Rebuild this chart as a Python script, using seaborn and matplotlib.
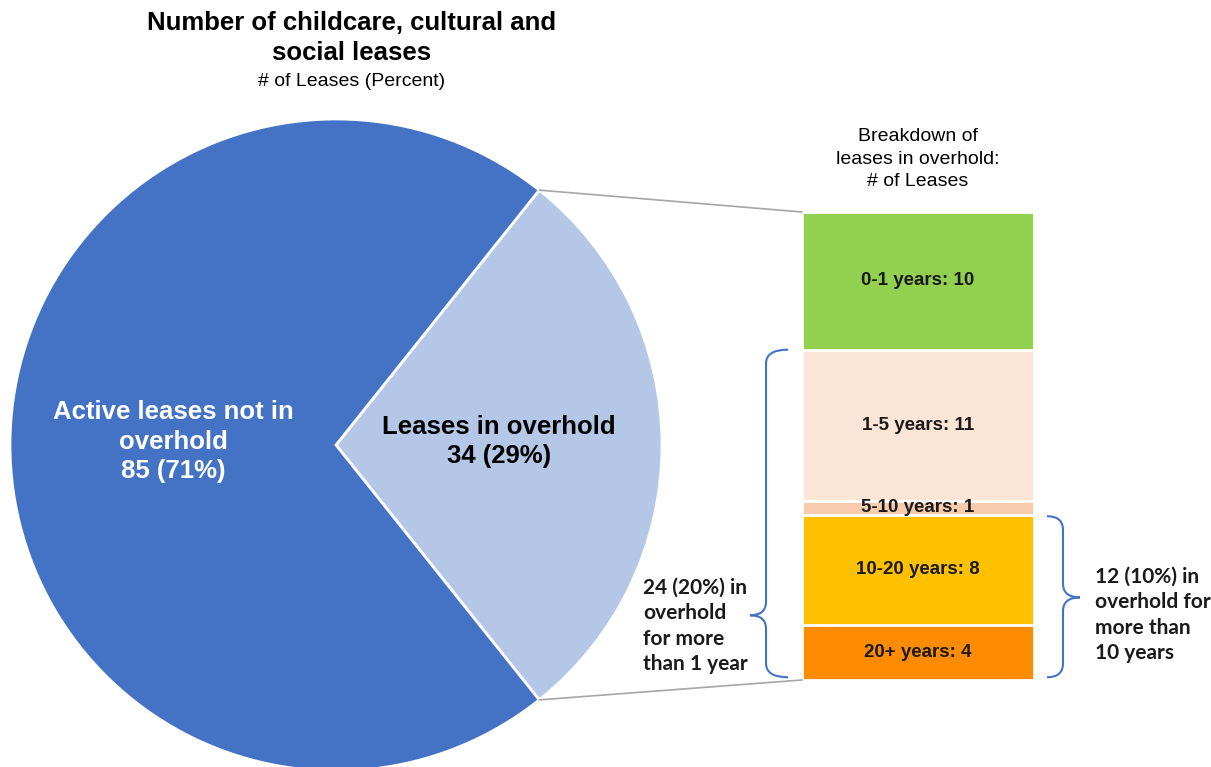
import numpy as np
import matplotlib
matplotlib.use("Agg")
import matplotlib.pyplot as plt
import matplotlib.transforms as mtransforms
from matplotlib.path import Path
from matplotlib.patches import PathPatch, ConnectionPatch
import seaborn as sns

# dados
pie_labels = ["Leases in overhold", "Active leases not in\noverhold"]
pie_values = [34, 85]
pie_colors = ["#B4C7E7", "#4472C4"]
pie_text_colors = ["black", "white"]

# barra empilhada (de baixo para cima)
bar_labels = ["20+ years", "10-20 years", "5-10 years", "1-5 years", "0-1 years"]
bar_values = [4, 8, 1, 11, 10]
bar_colors = ["#FF8C00", "#FFC000", "#F8CBAD", "#FBE5D6", "#92D050"]

brace_left_text = "24 (20%) in\noverhold\nfor more\nthan 1 year"
brace_right_text = "12 (10%) in\noverhold for\nmore than\n10 years"

sns.set_theme(style="white")
plt.rcParams['font.family'] = ['Liberation Sans', 'DejaVu Sans']
plt.rcParams['text.color'] = 'black'

W, H = 1211, 767
fig = plt.figure(figsize=(W / 100, H / 100), dpi=100)

# pizza
cx, cy, r = 336, 445, 326
ax1 = fig.add_axes([(cx - r) / W, (H - cy - r) / H, 2 * r / W, 2 * r / H])
total = sum(pie_values)
start = -pie_values[0] / total * 180
wedges, _ = ax1.pie(pie_values, colors=pie_colors, startangle=start, counterclock=True,
                    radius=1, wedgeprops=dict(edgecolor="white", linewidth=2))
ax1.set_xlim(-1, 1)
ax1.set_ylim(-1, 1)
ax1.set_aspect("equal")
ax1.axis("off")

for w, lab, val, tc in zip(wedges, pie_labels, pie_values, pie_text_colors):
    ang = np.deg2rad((w.theta1 + w.theta2) / 2)
    txt = f"{lab}\n{val} ({val / total:.0%})"
    ax1.text(0.5 * np.cos(ang), 0.5 * np.sin(ang) + 0.01, txt, ha="center", va="center",
             fontsize=18.5, fontweight="bold", color=tc, linespacing=1.28)

# barra
bx0, bx1, by0, by1 = 802, 1034, 212, 680
ax2 = fig.add_axes([bx0 / W, (H - by1) / H, (bx1 - bx0) / W, (by1 - by0) / H])
cum = np.cumsum(bar_values)
for i in range(len(bar_values) - 1, -1, -1):
    sns.barplot(x=["overhold"], y=[cum[i]], color=bar_colors[i], width=1, ax=ax2,
                edgecolor="white", linewidth=2, saturation=1)
ax2.set_xlim(-0.5, 0.5)
ax2.set_ylim(0, cum[-1])
ax2.axis("off")

bottoms = cum - np.array(bar_values)
for lab, val, b in zip(bar_labels, bar_values, bottoms):
    ax2.text(0, b + val / 2, f"{lab}: {val}", ha="center", va="center",
             fontsize=13.5, fontweight="bold", color="#1a1a1a")

# linhas de ligacao
a_top = np.deg2rad(wedges[0].theta2)
a_bot = np.deg2rad(wedges[0].theta1)
for ang, yb in [(a_top, cum[-1]), (a_bot, 0)]:
    con = ConnectionPatch(xyA=(np.cos(ang), np.sin(ang)), coordsA=ax1.transData,
                          xyB=(-0.5, yb), coordsB=ax2.transData,
                          color="#A6A6A6", linewidth=1.2)
    fig.add_artist(con)


def brace(ax, y0, y1, ytip, x_end, x_mid, x_tip, rr=1.0):
    trans = mtransforms.blended_transform_factory(ax.transAxes, ax.transData)
    verts = [(x_end, y0), (x_mid, y0), (x_mid, y0 + rr),
             (x_mid, ytip - rr), (x_mid, ytip), (x_tip, ytip),
             (x_mid, ytip), (x_mid, ytip + rr),
             (x_mid, y1 - rr), (x_mid, y1), (x_end, y1)]
    codes = [Path.MOVETO, Path.CURVE3, Path.CURVE3,
             Path.LINETO, Path.CURVE3, Path.CURVE3,
             Path.CURVE3, Path.CURVE3,
             Path.LINETO, Path.CURVE3, Path.CURVE3]
    p = PathPatch(Path(verts, codes), transform=trans, fill=False,
                  edgecolor="#4472C4", linewidth=1.5, clip_on=False)
    ax.add_patch(p)


brace(ax2, 0.2, cum[3], 4.7, -0.06, -0.155, -0.224)
brace(ax2, 0.2, cum[1] - 0.1, cum[1] / 2, 1.056, 1.125, 1.198)

fig.text(643 / W, 1 - 626 / H, brace_left_text, ha="left", va="center", fontsize=15,
         fontweight="bold", family=["Lato", "DejaVu Sans"], color="#1a1a1a", linespacing=1.35)
fig.text(1095 / W, 1 - 615 / H, brace_right_text, ha="left", va="center", fontsize=15,
         fontweight="bold", family=["Lato", "DejaVu Sans"], color="#1a1a1a", linespacing=1.35)

# titulos
fig.text(352 / W, 1 - 38 / H, "Number of childcare, cultural and\nsocial leases", ha="center",
         va="center", fontsize=18.5, fontweight="bold", linespacing=1.32)
fig.text(352 / W, 1 - 81 / H, "# of Leases (Percent)", ha="center", va="center", fontsize=14)
fig.text(918 / W, 1 - 159 / H, "Breakdown of\nleases in overhold:\n# of Leases", ha="center",
         va="center", fontsize=14, linespacing=1.4)

fig.savefig("out.png", dpi=100)
